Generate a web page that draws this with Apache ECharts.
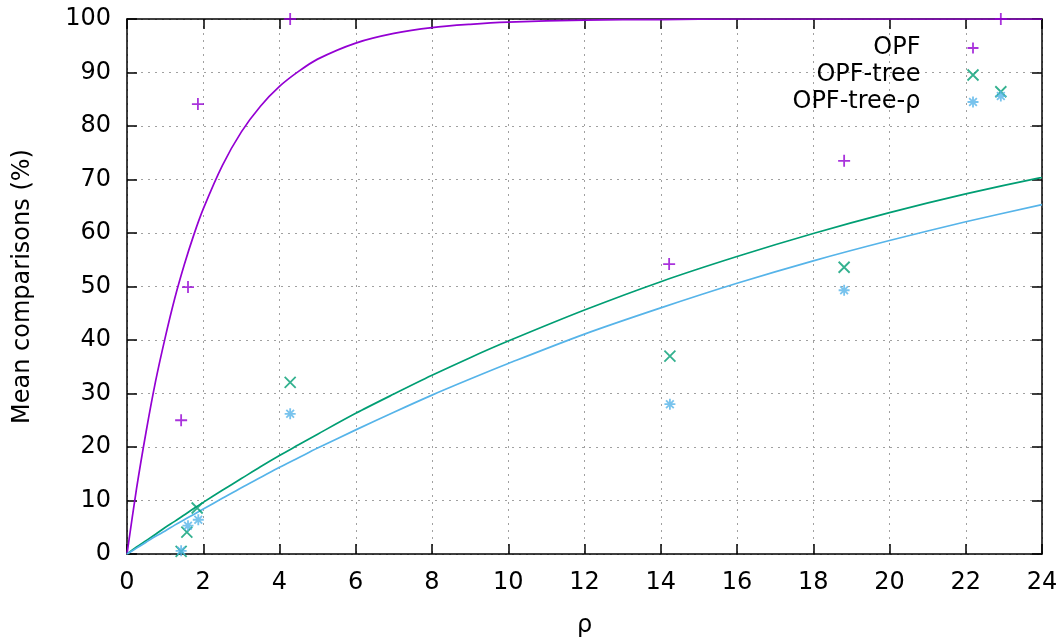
<!DOCTYPE html>
<html><head><meta charset="utf-8">
<script src="https://cdn.jsdelivr.net/npm/echarts@6/dist/echarts.min.js"></script>
<style>html,body{margin:0;padding:0;background:#fff}#c{width:1062px;height:639px}</style>
</head><body><div id="c"></div>
<script>
// measured points
const opfPts = [[1.42,25.0],[1.60,49.9],[1.86,84.1],[4.28,100],[14.22,54.2],[18.81,73.5],[22.92,100]];
const treePts = [[1.42,0.5],[1.57,4.1],[1.84,8.6],[4.28,32.1],[14.24,37.0],[18.81,53.6],[22.92,86.4]];
const rhoPts = [[1.42,0.6],[1.60,5.3],[1.87,6.4],[4.28,26.2],[14.24,28.0],[18.81,49.3],[22.92,85.6]];
// fitted curves
const curveX = [0,0.25,0.5,0.75,1,1.25,1.5,1.75,2,2.5,3,3.5,4,4.5,5,6,7,8,9,10,12,14,16,18,20,22,24];
const opfCurve = [0,12.2,22.8,32.3,40.4,47.7,54.0,59.6,64.5,72.6,78.9,83.7,87.4,90.2,92.5,95.5,97.3,98.4,99.0,99.4,99.8,99.9,100,100,100,100,100];
const treeCurve = [0,1.3,2.5,3.7,4.95,6.1,7.3,8.5,9.65,11.9,14.1,16.3,18.4,20.4,22.4,26.3,29.9,33.4,36.7,39.8,45.6,50.9,55.6,59.9,63.8,67.3,70.4];
const rhoCurve = [0,1.1,2.2,3.3,4.3,5.4,6.4,7.4,8.4,10.4,12.4,14.3,16.2,18.0,19.8,23.2,26.5,29.7,32.7,35.6,41.1,46.0,50.6,54.8,58.6,62.1,65.3];
const xTicks = {min:0,max:24,interval:2};
const yTicks = {min:0,max:100,interval:10};
const names = ['OPF','OPF-tree','OPF-tree-ρ'];
const colors = ['#9400d3','#009e73','#56b4e9'];

const PLUS = 'path://M5,0L5,10M0,5L10,5';
const CROSS = 'path://M0,0L10,10M10,0L0,10';
const STAR = 'path://M5,0L5,10M0,5L10,5M1.5,1.5L8.5,8.5M8.5,1.5L1.5,8.5';
const syms = [PLUS, CROSS, STAR];
const pts = [opfPts, treePts, rhoPts];
const curves = [opfCurve, treeCurve, rhoCurve];
const FONT = 'DejaVu Sans';

const series = [];
for (let i=0;i<3;i++){
  series.push({
    type:'line', xAxisIndex:0, yAxisIndex:0, showSymbol:false, smooth:0.3,
    data: curveX.map((x,j)=>[x,curves[i][j]]),
    lineStyle:{color:colors[i],width:1.7}, itemStyle:{color:colors[i]}, silent:true, z:2
  });
}
for (let i=0;i<3;i++){
  series.push({
    name:names[i], type:'scatter', xAxisIndex:0, yAxisIndex:0,
    symbol:syms[i], symbolSize:i===0?12:11,
    data: pts[i],
    itemStyle:{color:'none', borderColor:colors[i], borderWidth:1.8}, z:3
  });
}

function axisCommon(extra){
  return Object.assign({
    type:'value',
    axisLine:{show:true,onZero:false,lineStyle:{color:'#000',width:1.5}},
    axisTick:{show:true,inside:true,length:10,lineStyle:{color:'#000',width:1.5}},
    splitLine:{show:false},
  }, extra);
}

const chart = echarts.init(document.getElementById('c'));
chart.setOption({
  animation:false,
  backgroundColor:'#fff',
  grid:{left:127,right:20,top:19,bottom:85,containLabel:false,outerBoundsMode:'none'},
  legend:{
    data:names.map((n,i)=>({name:n,icon:syms[i],itemStyle:{color:'none',borderColor:colors[i],borderWidth:1.8}})),
    orient:'vertical', align:'right', right:76, top:31, itemGap:3, itemWidth:11, itemHeight:11,
    textStyle:{fontFamily:FONT,fontSize:24,color:'#000',padding:[0,42,0,0]}
  },
  xAxis:[
    axisCommon(Object.assign({position:'bottom',
      name:'ρ', nameLocation:'middle', nameGap:60,
      nameTextStyle:{fontFamily:FONT,fontSize:24,color:'#000'},
      axisLabel:{fontFamily:FONT,fontSize:24,color:'#000',margin:17},
      splitLine:{show:true,lineStyle:{color:'#a0a0a0',width:1,type:[2,5]}}
    }, xTicks)),
    axisCommon(Object.assign({position:'top', axisLabel:{show:false}}, xTicks))
  ],
  yAxis:[
    axisCommon(Object.assign({position:'left',
      name:'Mean comparisons (%)', nameLocation:'middle', nameGap:92,
      nameTextStyle:{fontFamily:FONT,fontSize:24,color:'#000'},
      axisLabel:{fontFamily:FONT,fontSize:24,color:'#000',margin:16},
      splitLine:{show:true,lineStyle:{color:'#a0a0a0',width:1,type:[2,5]}}
    }, yTicks)),
    axisCommon(Object.assign({position:'right', axisLabel:{show:false}}, yTicks))
  ],
  series:series
});
</script></body></html>
